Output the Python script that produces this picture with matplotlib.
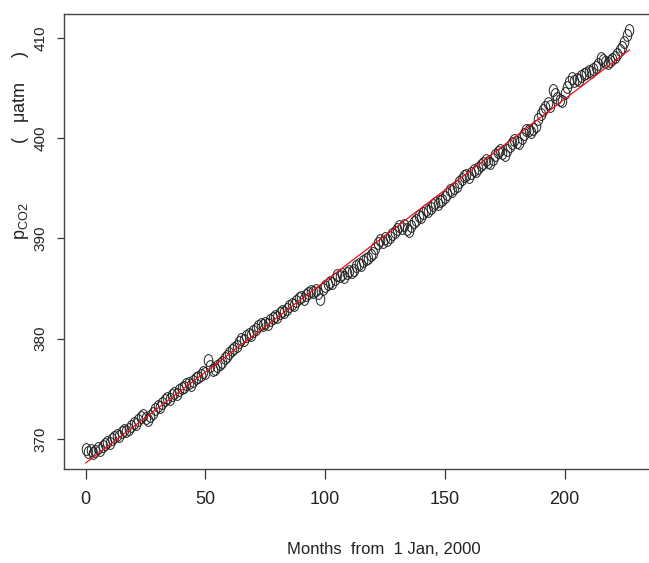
import numpy as np
import matplotlib
matplotlib.use("Agg")
import matplotlib.pyplot as plt
from matplotlib import font_manager
from matplotlib.path import Path
from matplotlib.transforms import Affine2D

# ---- data ----
months = list(range(228))
pco2 = [
    369.0, 368.7, 368.9, 368.6, 368.8, 369.1, 368.9, 369.3, 369.5, 369.7, 369.6, 370.0,
    370.2, 370.4, 370.3, 370.7, 370.9, 370.8, 371.0, 371.3, 371.6, 371.5, 371.9, 372.2,
    372.4, 372.1, 371.9, 372.3, 372.6, 373.0, 373.3, 373.2, 373.6, 373.9, 374.1, 374.0,
    374.4, 374.6, 374.5, 374.9, 375.1, 375.2, 375.5, 375.6, 375.4, 375.8, 376.1, 376.2,
    376.4, 376.7, 376.6, 377.9, 377.3, 376.9, 377.0, 377.3, 377.5, 377.7, 378.1, 378.3,
    378.6, 378.9, 379.1, 379.3, 379.7, 380.0, 379.9, 380.3, 380.5, 380.4, 380.8, 381.0,
    381.3, 381.5, 381.4, 381.6, 381.5, 381.9, 382.1, 382.3, 382.2, 382.6, 382.8, 382.7,
    383.0, 383.3, 383.5, 383.4, 383.8, 384.1, 384.2, 384.0, 384.4, 384.6, 384.8, 384.7,
    384.9, 384.6, 384.0, 385.0, 385.3, 385.5, 385.7, 385.6, 386.0, 386.4, 386.3, 386.5,
    386.2, 386.6, 386.8, 386.7, 386.9, 387.2, 387.4, 387.3, 387.7, 387.9, 388.0, 388.3,
    388.5, 389.0, 389.5, 389.8, 389.6, 390.0, 389.8, 390.1, 390.4, 390.6, 390.9, 391.2,
    391.0, 391.3, 390.9, 390.7, 391.2, 391.6, 391.8, 392.2, 392.1, 392.5, 392.8, 392.7,
    393.0, 393.3, 393.5, 393.4, 393.7, 393.8, 394.1, 394.4, 394.8, 394.7, 395.0, 395.2,
    395.6, 395.9, 396.2, 396.3, 396.1, 396.5, 396.8, 396.7, 397.0, 397.3, 397.5, 397.8,
    397.6, 397.5, 397.9, 398.3, 398.6, 398.8, 398.5, 398.3, 398.8, 399.2, 399.5, 399.8,
    399.6, 399.5, 400.0, 400.4, 400.8, 400.8, 400.6, 400.9, 401.2, 401.9, 402.4, 402.8,
    403.1, 403.5, 403.2, 404.8, 404.4, 404.0, 403.8, 403.7, 404.5, 405.1, 405.6, 406.0,
    405.7, 405.9, 405.8, 406.2, 406.4, 406.5, 406.7, 406.6, 406.9, 407.1, 407.4, 408.0,
    407.8, 407.6, 407.5, 407.7, 407.9, 408.1, 408.4, 408.8, 409.1, 409.6, 410.3, 410.8,
]
x_ticks = [0, 50, 100, 150, 200]
y_ticks = [370, 380, 390, 400, 410]
x_label = "Months  from  1 Jan, 2000"
y_label = r"p$_{\mathrm{CO2}}$            (   μatm     )"

# ---- fonts ----
names = {f.name for f in font_manager.fontManager.ttflist}
fam = "Liberation Sans Narrow" if "Liberation Sans Narrow" in names else "Liberation Sans"
plt.rcParams["font.family"] = [fam, "DejaVu Sans"]
plt.rcParams["mathtext.fontset"] = "custom"
plt.rcParams["mathtext.rm"] = fam
plt.rcParams["mathtext.it"] = fam

W, H = 649, 563
fig = plt.figure(figsize=(W / 100, H / 100), dpi=100)
left, right, top, bottom = 64, 651, 14, 469
ax = fig.add_axes([left / W, 1 - bottom / H, (right - left) / W, (bottom - top) / H])

x = np.array(months, dtype=float)
y = np.array(pco2)

ellipse = Path.unit_circle().transformed(Affine2D().scale(0.72, 1.0))
ax.plot(x, y, linestyle="none", marker=ellipse, markersize=8.5,
        markerfacecolor="none", markeredgecolor="#222222", markeredgewidth=0.7)

coef = np.polyfit(x, y, 1)
ax.plot(x, np.polyval(coef, x), color="#ee1111", linewidth=0.9)

ax.set_xlim(-9.08, 236.08)
ax.set_ylim(366.99, 412.4)
ax.set_xticks(x_ticks)
ax.set_yticks(y_ticks)
ax.set_xticklabels([str(v) for v in x_ticks], fontsize=13)
ax.set_yticklabels([str(v) for v in y_ticks], fontsize=11, rotation=90, va="center")
ax.tick_params(axis="x", direction="out", length=7.5, width=0.9, pad=8, colors="#333333", labelcolor="#222222")
ax.tick_params(axis="y", direction="out", length=5, width=0.9, pad=7, colors="#333333", labelcolor="#222222")
for s in ax.spines.values():
    s.set_linewidth(1.0)
    s.set_color("#444444")

ax.set_xlabel(x_label, fontsize=12, color="#222222", va="center")
ax.xaxis.set_label_coords((384 - left) / (right - left), (bottom - 549) / (bottom - top))
fig.text(21 / W, 1 - 145 / H, y_label, rotation=90, ha="center", va="center",
         fontsize=13, color="#222222")

fig.savefig("out.png", dpi=100)
